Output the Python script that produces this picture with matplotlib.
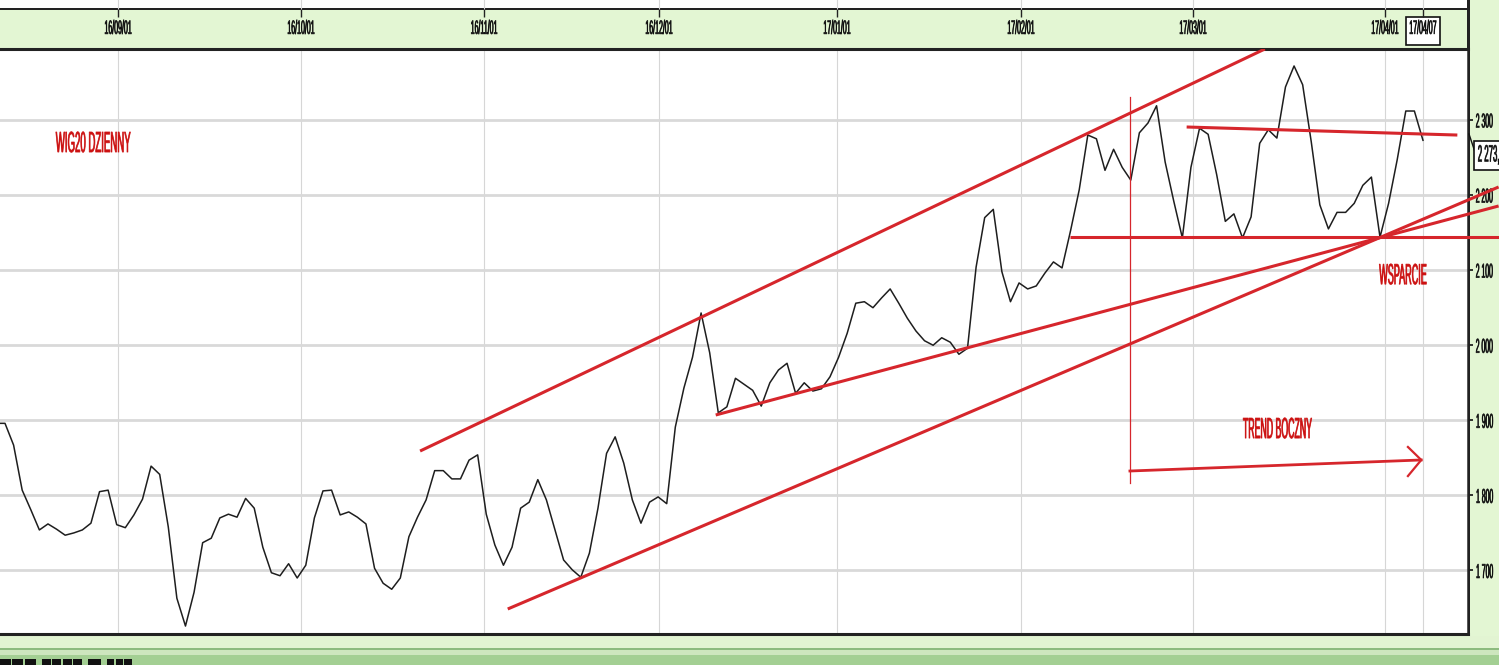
import numpy as np
import matplotlib
matplotlib.use('Agg')
import matplotlib.pyplot as plt
from matplotlib.patches import Rectangle
from matplotlib.lines import Line2D
from matplotlib.patheffects import AbstractPathEffect
from matplotlib.transforms import Affine2D, Bbox
from matplotlib.text import Text

plt.rcParams['font.family'] = ['Liberation Sans', 'DejaVu Sans']

# ---------------- data ----------------
# daily closes of WIG20 (first value = flat start just left of the frame)
closes = [1896,
          1896, 1867, 1807, 1781, 1754, 1762, 1755, 1747, 1750, 1754,
          1763, 1805, 1807, 1761, 1757, 1774, 1795, 1839, 1828, 1758,
          1663, 1626, 1671, 1737, 1743, 1770, 1775, 1771, 1796, 1783,
          1731, 1697, 1693, 1709, 1690, 1707, 1770, 1806, 1807, 1774,
          1778, 1771, 1762, 1703, 1683, 1675, 1690, 1745, 1771, 1794,
          1833, 1833, 1822, 1822, 1847, 1854, 1775, 1734, 1707, 1731,
          1783, 1791, 1821, 1794, 1754, 1714, 1701, 1691, 1723, 1783,
          1856, 1878, 1843, 1794, 1763, 1791, 1798, 1789, 1891, 1943,
          1984, 2043, 1990, 1910, 1918, 1956, 1948, 1940, 1919, 1950,
          1967, 1976, 1936, 1950, 1939, 1942, 1958, 1984, 2016, 2056,
          2058, 2050, 2063, 2075, 2056, 2036, 2019, 2006, 2000, 2010,
          2004, 1988, 1996, 2104, 2170, 2181, 2098, 2058, 2083, 2075,
          2079, 2096, 2111, 2103, 2153, 2207, 2280, 2275, 2233, 2261,
          2237, 2220, 2283, 2296, 2319, 2244, 2192, 2143, 2237, 2289,
          2281, 2227, 2165, 2175, 2143, 2171, 2269, 2287, 2276, 2344,
          2372, 2347, 2271, 2187, 2155, 2177, 2177, 2189, 2213, 2224,
          2144, 2189, 2247, 2312, 2312, 2273]
day_index = np.arange(-1, len(closes) - 1)

date_ticks = [13.15, 34.44, 55.74, 76.10, 96.81, 118.22, 138.24, 160.58, 165.0]
date_labels = ['16/09/01', '16/10/01', '16/11/01', '16/12/01', '17/01/01',
               '17/02/01', '17/03/01', '17/04/01', '17/04/07']
price_ticks = [1700, 1800, 1900, 2000, 2100, 2200, 2300]
price_labels = ['1 700', '1 800', '1 900', '2 000', '2 100', '2 200', '2 300']
last_close_label = '2 273,0'

# hand-drawn analysis lines (day index, index value)
channel_upper_x, channel_upper_y = [48.3, 146.6], [1859.1, 2394.6]
channel_lower_x, channel_lower_y = [58.5, 173.8], [1648.7, 2210.8]
support_rise_x, support_rise_y = [82.7, 173.8], [1907.1, 2185.5]
support_flat_x, support_flat_y = [123.9, 173.8], [2144.0, 2144.0]
resist_x, resist_y = [137.5, 169.0], [2290.7, 2280.0]
marker_x, marker_y = [130.9, 130.9], [1816.5, 2330.6]
arrow_x, arrow_y = [130.9, 164.8], [1832.5, 1847.2]
arrow_head_x, arrow_head_y = [163.25, 164.8, 163.25], [1864.5, 1847.2, 1825.8]

notes = [('WIG20 DZIENNY', 5.9, 2268, 0.33),
         ('WSPARCIE', 159.9, 2092, 0.31),
         ('TREND BOCZNY', 144.0, 1887, 0.30)]


# --------------- helpers ---------------
class Squeeze(AbstractPathEffect):
    """Draw text glyphs horizontally compressed (condensed screen font look)."""
    def __init__(self, sx=0.35, anchor='left', stroke=0.0):
        super().__init__()
        self.sx = sx
        self.anchor = anchor
        self.stroke = stroke

    def draw_path(self, renderer, gc, tpath, affine, rgbFace=None):
        if len(tpath.vertices) == 0:
            return
        ext = tpath.get_extents()
        if self.anchor == 'center':
            cx = (ext.x0 + ext.x1) / 2
        else:
            cx = ext.x0
        tr = Affine2D().translate(-cx, 0).scale(self.sx, 1.0).translate(cx, 0) + affine
        gc0 = renderer.new_gc()
        gc0.copy_properties(gc)
        if self.stroke > 0 and rgbFace is not None:
            gc0.set_linewidth(self.stroke)
            gc0.set_foreground(rgbFace)
        renderer.draw_path(gc0, tpath, tr, rgbFace)
        gc0.restore()


# report the compressed extent for squeezed texts
_orig_extent = Text.get_window_extent


def _squeezed_extent(self, renderer=None, dpi=None):
    bb = _orig_extent(self, renderer, dpi)
    for pe in self.get_path_effects():
        if isinstance(pe, Squeeze) and bb.width > 0:
            cx = (bb.x0 + bb.x1) / 2 if pe.anchor == 'center' else bb.x0
            return Bbox([[cx + (bb.x0 - cx) * pe.sx, bb.y0],
                         [cx + (bb.x1 - cx) * pe.sx, bb.y1]])
    return bb


Text.get_window_extent = _squeezed_extent

W, H = 1499, 665
GREEN = '#e3f6d3'
RED = '#d6262c'
TXT_RED = '#cc1111'

fig = plt.figure(figsize=(W / 100, H / 100), dpi=100, facecolor=GREEN)


def frect(x0, y0, x1, y1, color, z=-5):
    fig.add_artist(Rectangle((x0 / W, 1 - y1 / H), (x1 - x0) / W, (y1 - y0) / H,
                             transform=fig.transFigure, facecolor=color,
                             edgecolor='none', zorder=z))


# frame decorations
frect(0, 0, 1468, 8, 'white')
frect(0, 7.5, 1468, 9.5, '#222222')
frect(1467, 0, 1469.5, 636, '#222222')
frect(0, 636, W, 648, '#e2f4d2')
frect(0, 648, W, 650, '#8dbb7f')
frect(0, 650, W, 655, '#cde6be')
frect(0, 655, W, H, '#a3cf93')
for g0, g1, n in [(0, 37, 3), (42, 83, 4), (88, 102, 1), (107, 133, 3)]:
    step = (g1 - g0) / n
    for k in range(n):
        frect(g0 + k * step, 659, g0 + (k + 1) * step - 1.2, H, '#111111', z=-4)

ax = fig.add_axes([0, 1 - 634 / H, 1468 / W, (634 - 49) / H])
ax.set_facecolor('white')
ax.set_xlim(-0.582, 170.24)
ax.set_ylim(1615.4, 2394.6)

# grid
ax.set_axisbelow(True)
ax.grid(axis='y', color='#d9d9d9', lw=2.0)
ax.grid(axis='x', color='#d6d6d6', lw=0.8)

# spines
ax.spines['left'].set_visible(False)
ax.spines['top'].set_linewidth(2.2)
ax.spines['bottom'].set_linewidth(2.2)
ax.spines['right'].set_linewidth(1.8)
for s in ax.spines.values():
    s.set_color('#222222')

# x ticks (top band)
ax.xaxis.tick_top()
ax.set_xticks(date_ticks, date_labels, fontsize=14,
              path_effects=[Squeeze(0.36, 'center', 0.45)])
ax.tick_params(axis='x', length=0, pad=8.0, colors='#111111')

# y ticks (right)
ax.yaxis.tick_right()
ax.set_yticks(price_ticks, price_labels, fontsize=14.5,
              path_effects=[Squeeze(0.34, 'left', 0.45)])
ax.tick_params(axis='y', direction='out', length=3.6, width=1.2, pad=1.5,
               colors='#111111')

# tick marks inside the top band + grid lines into the white strip
xt = ax.get_xaxis_transform()
ax.vlines(date_ticks, 1.0547, 1.0684, transform=xt, colors='#222222',
          lw=1.0, clip_on=False)
ax.vlines(date_ticks, 1.0684, 1.09, transform=xt, colors='#d6d6d6',
          lw=0.8, clip_on=False)

# box around the last date label (kept below the tick labels)
ax.add_patch(Rectangle((date_ticks[-1] - 1.98, 1.0068), 3.96, 0.048,
                       transform=xt, facecolor='white', edgecolor='#111111',
                       lw=1.2, clip_on=False, zorder=0.2))

# price line
ax.plot(day_index, closes, color='#1e1e1e', lw=1.1, zorder=3)

# analysis lines
line_kw = dict(color=RED, lw=2.2, solid_capstyle='butt', zorder=4)
ax.plot(channel_upper_x, channel_upper_y, **line_kw)
ax.plot(channel_lower_x, channel_lower_y, clip_on=False, **line_kw)
ax.plot(support_rise_x, support_rise_y, clip_on=False, **line_kw)
ax.plot(support_flat_x, support_flat_y, clip_on=False, **line_kw)
ax.plot(resist_x, resist_y, **line_kw)
ax.plot(marker_x, marker_y, color=RED, lw=0.9, zorder=4)
ax.plot(arrow_x, arrow_y, color=RED, lw=2.0, zorder=4)
ax.plot(arrow_head_x, arrow_head_y, color=RED, lw=1.6, zorder=4)

# notes
for txt, x, y, sx in notes:
    ax.text(x, y, txt, ha='left', va='center', fontsize=21, color=TXT_RED,
            path_effects=[Squeeze(sx, 'left', 0.5)], zorder=5)

# last value marker on the right scale
fig.add_artist(Line2D([1469 / W, 1475 / W], [1 - 134 / H, 1 - 152 / H],
                      transform=fig.transFigure, color='#111111', lw=1.0, zorder=3))
fig.add_artist(Rectangle((1473.5 / W, 1 - 170 / H), 40 / W, 29 / H,
                         transform=fig.transFigure, facecolor='white',
                         edgecolor='#111111', lw=1.2, zorder=3))
fig.text(1477 / W, 1 - 155.5 / H, last_close_label, ha='left', va='center',
         fontsize=17, color='#111111', path_effects=[Squeeze(0.33, 'left', 0.45)],
         zorder=4)

fig.savefig('out.png', dpi=100, facecolor=fig.get_facecolor())
